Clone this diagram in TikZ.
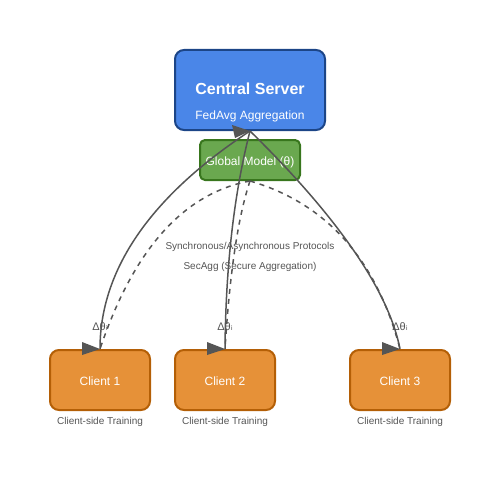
\documentclass[tikz,border=0pt]{standalone}
\usepackage{fontspec}
\setmainfont{Liberation Sans}
\newfontfamily\dejavu{DejaVu Sans}
\definecolor{srvfill}{HTML}{4A86E8}
\definecolor{srvdraw}{HTML}{1C4587}
\definecolor{gmfill}{HTML}{6AA84F}
\definecolor{gmdraw}{HTML}{38761D}
\definecolor{clfill}{HTML}{E69138}
\definecolor{cldraw}{HTML}{B45F06}
\definecolor{linecol}{HTML}{555555}
\definecolor{labcol}{HTML}{555555}
\begin{document}
\begin{tikzpicture}[x=1pt,y=-1pt,
  boxbase/.style={rectangle,rounded corners=9pt,line width=2pt,inner sep=0pt},
  serverbox/.style={boxbase,fill=srvfill,draw=srvdraw,minimum width=150pt,minimum height=80pt},
  gmbox/.style={boxbase,rounded corners=5pt,fill=gmfill,draw=gmdraw,minimum width=100pt,minimum height=40pt},
  clientbox/.style={boxbase,fill=clfill,draw=cldraw,minimum width=100pt,minimum height=60pt},
  wtext/.style={text=white,inner sep=0pt,anchor=base,font=\fontsize{12}{14}\selectfont},
  ttext/.style={text=white,inner sep=0pt,anchor=base,font=\bfseries\fontsize{16}{19}\selectfont},
  gtext/.style={text=labcol,inner sep=0pt,anchor=base,font=\fontsize{10}{12}\selectfont},
  dtext/.style={text=labcol,inner sep=0pt,anchor=base,font=\fontsize{11}{13}\selectfont},
  solidarrow/.style={draw=linecol,line width=1.5pt},
  dashedarrow/.style={draw=linecol,line width=1.5pt,dash pattern=on 5pt off 5pt},
  tipfill/.style={fill=linecol}
]
\useasboundingbox (0,0) rectangle (500,500);
% boxes
\node[serverbox] (server) at (250,90) {};
\node[ttext] (srvtitle) at (250,95) {Central Server};
\node[wtext] (srvsub) at (250,120) {FedAvg Aggregation};
\node[gmbox] (gm) at (250,160) {};
\node[wtext] (gmtext) at (250,165.5) {Global Model (θ)};
\node[clientbox] (c1) at (100,380) {};
\node[clientbox] (c2) at (225,380) {};
\node[clientbox] (c3) at (400,380) {};
\node[wtext] (c1t) at (100,385) {Client 1};
\node[wtext] (c2t) at (225,385) {Client 2};
\node[wtext] (c3t) at (400,385) {Client 3};
\node[gtext] (c1s) at (100,424.5) {Client-side Training};
\node[gtext] (c2s) at (225,424.5) {Client-side Training};
\node[gtext] (c3s) at (400,424.5) {Client-side Training};
% middle labels
\node[gtext] (proto) at (250,249.5) {Synchronous/Asynchronous Protocols};
\node[gtext] (secagg) at (250,269.5) {SecAgg (Secure Aggregation)};
\node[dtext] (d1) at (100,330) {Δθ{\dejavu ᵢ}};
\node[dtext] (d2) at (225,330) {Δθ{\dejavu ᵢ}};
\node[dtext] (d3) at (400,330) {Δθ{\dejavu ᵢ}};
% solid upload curves
\draw[solidarrow] (c1.north) .. controls (100,270) and (150,196.7) .. (server.south);
\draw[solidarrow] (c2.north) .. controls (225.7,266.7) and (234,193.3) .. (server.south);
\draw[solidarrow] (c3.north) .. controls (388.7,291.3) and (338.7,218) .. (server.south);
% dashed distribution curves
\draw[dashedarrow] (gm.south) .. controls (183.3,193.3) and (133.3,250) .. (c1.north);
\draw[dashedarrow] (gm.south) .. controls (238,216.7) and (229.7,273.3) .. (c2.north);
\draw[dashedarrow] (gm.south) .. controls (326.7,203.3) and (376.7,260) .. (c3.north);
% arrow tips
\fill[tipfill] (c1.north) -- ++(-18,-7) -- ++(0,13) -- cycle;
\fill[tipfill] (c2.north) -- ++(-18,-7) -- ++(0,13) -- cycle;
\fill[tipfill] (c3.north) -- ++(-18,-7) -- ++(0,13) -- cycle;
\fill[tipfill] (server.south) -- ++(-18,-6) -- ++(3,13) -- cycle;
\end{tikzpicture}
\end{document}
